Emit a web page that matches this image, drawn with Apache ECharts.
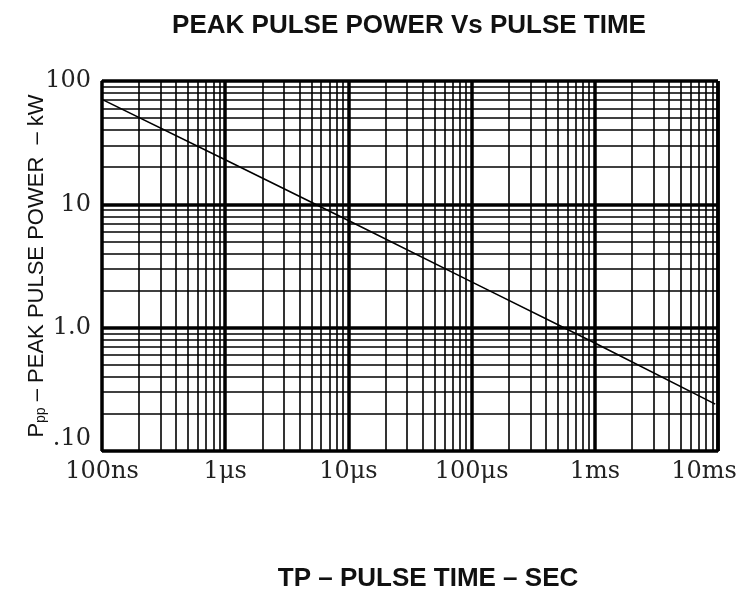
<!DOCTYPE html>
<html>
<head>
<meta charset="utf-8">
<script src="https://cdn.jsdelivr.net/npm/echarts@6/dist/echarts.min.js"></script>
<style>
  html, body { margin: 0; padding: 0; background: #fff; }
  #main { width: 742px; height: 592px; }
</style>
</head>
<body>
<div id="main"></div>
<script>
// pulse time (s) and peak pulse power (kW)
var pulseTime = [1e-7, 1e-6, 1e-5, 1e-4, 1e-3, 9.5e-3];
var peakPower = [71, 23, 7.4, 2.35, 0.75, 0.24];

// tick labels
var xTicks = [1e-7, 1e-6, 1e-5, 1e-4, 1e-3, 1e-2];
var xTickLabels = ['100ns', '1μs', '10μs', '100μs', '1ms', '10ms'];
var yTicks = [0.1, 1, 10, 100];
var yTickLabels = ['.10', '1.0', '10', '100'];

// minor grid lines inside every decade
var minorSteps = [2, 3, 4, 5, 6, 7, 8, 9];

function findLabel(ticks, labels, v) {
	var p = Math.round(Math.log10(v));
	for (var i = 0; i < ticks.length; i++) {
		if (Math.round(Math.log10(ticks[i])) == p) return labels[i];
	}
	return '';
}

var xMin = xTicks[0], xMax = xTicks[xTicks.length - 1];
var yMin = yTicks[0], yMax = yTicks[yTicks.length - 1];

var gridLines = [];
for (var i = 0; i < xTicks.length - 1; i++) {
	for (var k = 0; k < minorSteps.length; k++) {
		var xv = minorSteps[k] * xTicks[i];
		gridLines.push([{ coord: [xv, yMin] }, { coord: [xv, yMax] }]);
	}
}
for (var i = 0; i < yTicks.length - 1; i++) {
	for (var k = 0; k < minorSteps.length; k++) {
		var yv = minorSteps[k] * yTicks[i];
		gridLines.push([{ coord: [xMin, yv] }, { coord: [xMax, yv] }]);
	}
}

var chart = echarts.init(document.getElementById('main'));
var option = {
	animation: false,
	backgroundColor: '#fff',
	title: {
		text: 'PEAK PULSE POWER Vs PULSE TIME',
		left: 404,
		top: 8,
		textAlign: 'center',
		textStyle: {
			fontFamily: 'Liberation Sans',
			fontWeight: 'bold',
			fontSize: 26,
			color: '#111'
		}
	},
	grid: {
		left: 102,
		right: 24,
		top: 81,
		bottom: 141,
		containLabel: false,
		outerBoundsMode: 'none'
	},
	xAxis: {
		type: 'log',
		logBase: 10,
		min: xMin,
		max: xMax,
		name: 'TP – PULSE TIME – SEC',
		nameLocation: 'middle',
		nameGap: 115,
		nameMoveOverlap: false,
		nameTextStyle: {
			fontFamily: 'Liberation Sans',
			fontWeight: 'bold',
			fontSize: 26,
			color: '#111',
			padding: [0, 0, 0, 36]
		},
		axisLine: { show: true, lineStyle: { color: '#000', width: 2 } },
		axisTick: { show: false },
		axisLabel: {
			margin: 9,
			fontFamily: 'DejaVu Serif',
			fontSize: 24,
			color: '#222',
			formatter: function (v) {
				var s = findLabel(xTicks, xTickLabels, v);
				if (v >= xMax * 0.99) return '{last|' + s + '}';
				return s;
			},
			rich: {
				last: {
					fontFamily: 'DejaVu Serif',
					fontSize: 24,
					color: '#222',
					padding: [0, 28, 0, 0]
				}
			}
		},
		splitLine: { show: true, lineStyle: { color: '#000', width: 3.5 } }
	},
	yAxis: {
		type: 'log',
		logBase: 10,
		min: yMin,
		max: yMax,
		name: '{a|P}{s|pp}{a| – PEAK PULSE POWER  – kW}',
		nameLocation: 'middle',
		nameRotate: 90,
		nameGap: 54,
		nameMoveOverlap: false,
		nameTextStyle: {
			rich: {
				a: { fontFamily: 'Liberation Sans', fontSize: 22, color: '#111' },
				s: { fontFamily: 'Liberation Sans', fontSize: 14, color: '#111', verticalAlign: 'bottom', padding: [8, 0, 0, 0] }
			}
		},
		axisLine: { show: true, lineStyle: { color: '#000', width: 2 } },
		axisTick: { show: false },
		axisLabel: {
			margin: 11,
			fontFamily: 'DejaVu Serif',
			fontSize: 24,
			color: '#222',
			verticalAlignMinLabel: 'bottom',
			formatter: function (v) {
				return findLabel(yTicks, yTickLabels, v);
			}
		},
		splitLine: { show: true, lineStyle: { color: '#000', width: 3.5 } }
	},
	series: [{
		type: 'line',
		data: pulseTime.map(function (t, i) { return [t, peakPower[i]]; }),
		symbol: 'none',
		silent: true,
		z: 3,
		lineStyle: { color: '#000', width: 1.6 },
		markLine: {
			silent: true,
			symbol: ['none', 'none'],
			label: { show: false },
			lineStyle: { color: '#000', width: 1.6, type: 'solid' },
			emphasis: { disabled: true },
			data: gridLines
		}
	}]
};
chart.setOption(option);
</script>
</body>
</html>
